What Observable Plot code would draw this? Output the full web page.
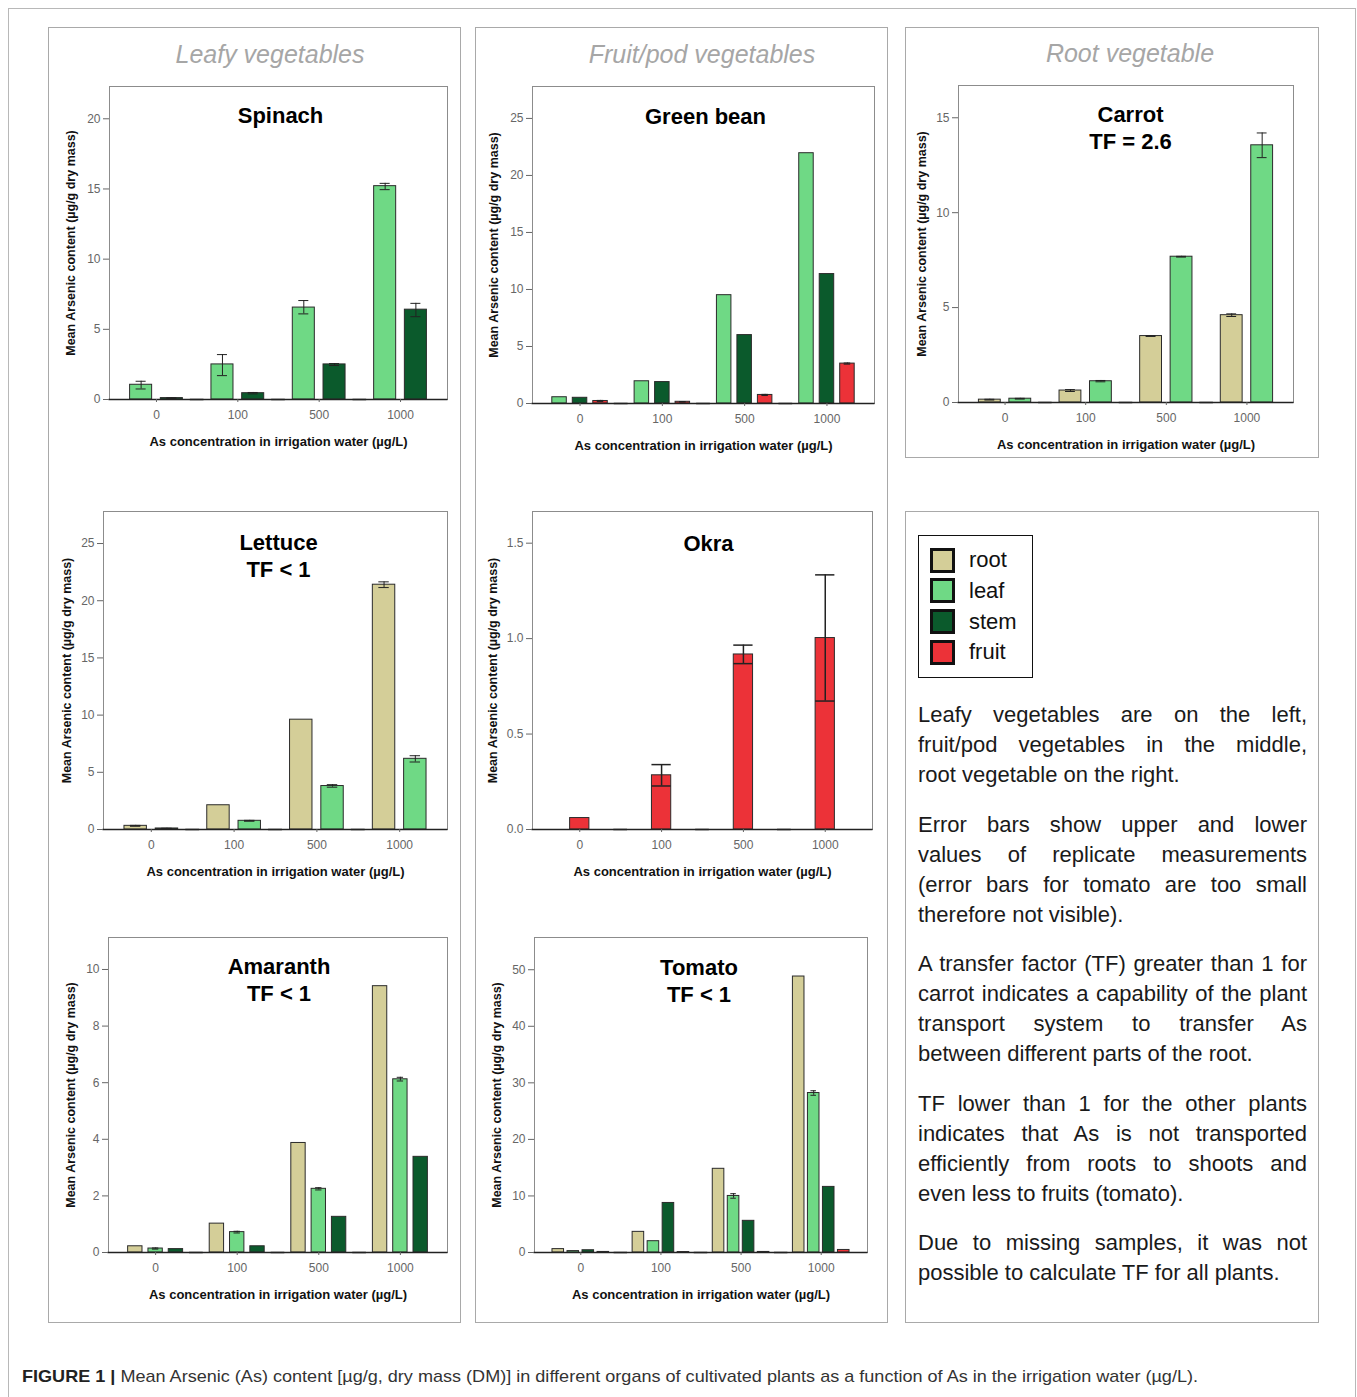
<!DOCTYPE html>
<html><head><meta charset="utf-8">
<script src="https://cdn.jsdelivr.net/npm/d3@7"></script>
<script src="https://cdn.jsdelivr.net/npm/@observablehq/plot@0.6"></script>
<style>
body{margin:0;background:#fff;font-family:"Liberation Sans",Arial,sans-serif;}
#page{position:relative;width:1357px;height:1397px;overflow:hidden;background:#fff;}
.outer{position:absolute;left:8px;top:8px;width:1348px;height:1430px;border:1px solid #b8b8b8;box-sizing:border-box;}
.col{position:absolute;border:1.5px solid #a9a9a9;box-sizing:border-box;}
.head{position:absolute;font-style:italic;font-size:25px;color:#a6a6a6;transform:translate(-50%,-50%);white-space:nowrap;}
.panel{position:absolute;}
.panel svg{overflow:visible;}
g[aria-label="y-axis label"], g[aria-label="fx-axis label"]{font-weight:bold;fill:#111;}
g[aria-label="fx-axis label"]{font-size:13px;}
g[aria-label="y-axis label"]{font-size:12.5px;}
.legend{position:absolute;left:918px;top:535px;width:115px;height:143px;border:1.5px solid #111;box-sizing:border-box;}
.lg{position:absolute;left:11px;display:flex;align-items:center;font-size:22px;color:#111;}
.sw{width:25px;height:25px;border:3px solid #111;box-sizing:border-box;margin-right:14px;}
.txt{position:absolute;left:918px;top:700px;width:389px;font-size:22px;color:#1a1a1a;}
.ln{height:30px;line-height:30px;white-space:nowrap;text-align:justify;text-align-last:justify;}
.ln.last{text-align-last:left;}
.para{margin-bottom:19.5px;}
.cap{position:absolute;left:22px;top:1367px;font-size:17px;color:#333;white-space:nowrap;transform-origin:left center;}
.cap b{color:#222;}
</style>
</head><body>
<div id="page"></div>
<script>
// ---------- data ----------
const concentrations = ["0", "100", "500", "1000"];
const organs = ["root", "leaf", "stem", "fruit"];
const organColors = ["#d4ce98", "#6fd985", "#0b5a2c", "#ec3238"];
const xLabel = "As concentration in irrigation water (µg/L)";
const yLabel = "Mean Arsenic content (µg/g dry mass)";
const columnTitles = ["Leafy vegetables", "Fruit/pod vegetables", "Root vegetable"];

// Spinach
const spinachLeaf = [1.05, 2.5, 6.55, 15.2];
const spinachLeafErr = [[0.75, 1.3], [1.7, 3.2], [6.1, 7.05], [14.95, 15.4]];
const spinachStem = [0.1, 0.45, 2.5, 6.4];
const spinachStemErr = [[0.08, 0.12], [0.4, 0.5], [2.42, 2.56], [5.9, 6.85]];
// Green bean
const beanLeaf = [0.55, 1.95, 9.5, 21.95];
const beanStem = [0.5, 1.88, 6.0, 11.35];
const beanFruit = [0.22, 0.15, 0.75, 3.5];
const beanFruitErr = [[0.18, 0.27], [0.13, 0.17], [0.7, 0.8], [3.45, 3.55]];
// Carrot
const carrotRoot = [0.15, 0.63, 3.5, 4.6];
const carrotRootErr = [[0.13, 0.17], [0.58, 0.68], [3.48, 3.52], [4.53, 4.67]];
const carrotLeaf = [0.2, 1.12, 7.68, 13.55];
const carrotLeafErr = [[0.18, 0.22], [1.09, 1.16], [7.66, 7.7], [12.9, 14.2]];
// Lettuce
const lettuceRoot = [0.32, 2.12, 9.6, 21.4];
const lettuceRootErr = [[0.28, 0.36], null, null, [21.15, 21.65]];
const lettuceLeaf = [0.09, 0.76, 3.8, 6.18];
const lettuceLeafErr = [[0.07, 0.11], [0.72, 0.8], [3.7, 3.92], [5.9, 6.45]];
// Okra
const okraFruit = [0.06, 0.284, 0.917, 1.003];
const okraFruitErr = [null, [0.228, 0.34], [0.869, 0.966], [0.673, 1.334]];
// Amaranth
const amaranthRoot = [0.22, 1.02, 3.87, 9.41];
const amaranthLeaf = [0.14, 0.72, 2.25, 6.12];
const amaranthLeafErr = [[0.12, 0.16], [0.69, 0.75], [2.21, 2.29], [6.06, 6.19]];
const amaranthStem = [0.12, 0.22, 1.26, 3.38];
// Tomato
const tomatoRoot = [0.6, 3.65, 14.8, 48.8];
const tomatoLeaf = [0.25, 2.0, 10.0, 28.2];
const tomatoLeafErr = [null, null, [9.6, 10.4], [27.8, 28.6]];
const tomatoStem = [0.4, 8.76, 5.6, 11.6];
const tomatoFruit = [0.1, 0.08, 0.1, 0.45];

const plants = [
  {title: "Spinach", series: {leaf: [spinachLeaf, spinachLeafErr], stem: [spinachStem, spinachStemErr]}, yMax: 22.3, yTicks: [0, 5, 10, 15, 20]},
  {title: "Green bean", series: {leaf: [beanLeaf], stem: [beanStem], fruit: [beanFruit, beanFruitErr]}, yMax: 27.8, yTicks: [0, 5, 10, 15, 20, 25]},
  {title: "Carrot\nTF = 2.6", series: {root: [carrotRoot, carrotRootErr], leaf: [carrotLeaf, carrotLeafErr]}, yMax: 16.7, yTicks: [0, 5, 10, 15]},
  {title: "Lettuce\nTF < 1", series: {root: [lettuceRoot, lettuceRootErr], leaf: [lettuceLeaf, lettuceLeafErr]}, yMax: 27.8, yTicks: [0, 5, 10, 15, 20, 25]},
  {title: "Okra", series: {fruit: [okraFruit, okraFruitErr]}, yMax: 1.666, yTicks: [0, 0.5, 1.0, 1.5], yFormat: ".1f"},
  {title: "Amaranth\nTF < 1", series: {root: [amaranthRoot], leaf: [amaranthLeaf, amaranthLeafErr], stem: [amaranthStem]}, yMax: 11.13, yTicks: [0, 2, 4, 6, 8, 10]},
  {title: "Tomato\nTF < 1", series: {root: [tomatoRoot], leaf: [tomatoLeaf, tomatoLeafErr], stem: [tomatoStem], fruit: [tomatoFruit]}, yMax: 55.7, yTicks: [0, 10, 20, 30, 40, 50]}
];

const notes = [
  ["Leafy vegetables are on the left,", "fruit/pod vegetables in the middle,", "root vegetable on the right."],
  ["Error bars show upper and lower", "values of replicate measurements", "(error bars for tomato are too small", "therefore not visible)."],
  ["A transfer factor (TF) greater than 1 for", "carrot indicates a capability of the plant", "transport system to transfer As", "between different parts of the root."],
  ["TF lower than 1 for the other plants", "indicates that As is not transported", "efficiently from roots to shoots and", "even less to fruits (tomato)."],
  ["Due to missing samples, it was not", "possible to calculate TF for all plants."]
];
const captionLead = "FIGURE 1 |";
const captionText = " Mean Arsenic (As) content [µg/g, dry mass (DM)] in different organs of cultivated plants as a function of As in the irrigation water (µg/L).";

// ---------- layout ----------
const layouts = [
  {frame: [109, 86, 447, 399], ylo: 43, tdy: 18, tdx: 2},
  {frame: [532, 86, 874, 403], ylo: 43, tdy: 19, tdx: 2},
  {frame: [958, 85, 1293, 402], ylo: 41, tdy: 18, tdx: 4.5},
  {frame: [103, 511, 447, 829], ylo: 41, tdy: 20, tdx: 3},
  {frame: [532, 511, 872, 829], ylo: 44, tdy: 20.5, tdx: 6},
  {frame: [108, 937, 447, 1252], ylo: 42, tdy: 18, tdx: 1},
  {frame: [534, 937, 867, 1252], ylo: 42, tdy: 19, tdx: -2}
];
const boxes = [[48, 27, 461, 1323], [475, 27, 888, 1323], [905, 27, 1319, 458], [905, 511, 1319, 1323]];
const heads = [[270, 54], [702, 54], [1130, 53]];
const fxPad = 0.155;

const page = document.getElementById("page");
const outer = document.createElement("div"); outer.className = "outer"; page.append(outer);
boxes.forEach(([l, t, r, b]) => {
  const d = document.createElement("div"); d.className = "col";
  Object.assign(d.style, {left: l + "px", top: t + "px", width: (r - l) + "px", height: (b - t) + "px"});
  page.append(d);
});
columnTitles.forEach((t, i) => {
  const d = document.createElement("div"); d.className = "head"; d.textContent = t;
  d.style.left = heads[i][0] + "px"; d.style.top = heads[i][1] + "px"; page.append(d);
});

const padByCount = {1: [0.564, 0.564, 0], 2: [0.283, 0.26, 6], 3: [0.293, 0.344, 4], 4: [0.23, 0.37, 3]};

plants.forEach((p, k) => {
  const L = layouts[k];
  const [fl, ft, fr, fb] = L.frame;
  const ml = 70, mr = 10, mt = 5, mb = 60;
  const used = organs.filter(o => p.series[o]);
  const [pi, po, cap] = padByCount[used.length];
  const outerPad = fxPad * (fr - fl) / (concentrations.length + fxPad);
  const rows = [];
  for (const o of used) {
    const [vals, errs] = p.series[o];
    vals.forEach((v, i) => rows.push({
      conc: concentrations[i], organ: o, value: v,
      lo: errs && errs[i] ? errs[i][0] : null, hi: errs && errs[i] ? errs[i][1] : null
    }));
  }
  const errRows = rows.filter(r => r.lo != null);
  const sw = used.length === 1 ? 1.5 : 1;
  const chart = Plot.plot({
    width: (fr - fl) + ml + mr, height: (fb - ft) + mt + mb,
    marginLeft: ml, marginRight: mr, marginTop: mt, marginBottom: mb,
    style: {fontFamily: '"Liberation Sans", Arial, sans-serif', fontSize: "12px", background: "none", overflow: "visible"},
    fx: {domain: concentrations, paddingInner: fxPad, paddingOuter: fxPad, round: false},
    x: {domain: used, paddingInner: pi, paddingOuter: po, round: false, axis: null},
    y: {domain: [0, p.yMax]},
    color: {domain: organs, range: organColors},
    marks: [
      Plot.frame({facet: "super", stroke: "#8c8c8c", insetLeft: -outerPad, insetRight: -outerPad}),
      Plot.barY(rows, {fx: "conc", x: "organ", y: "value", fill: "organ", stroke: "#2b2b2b", strokeWidth: 1}),
      Plot.ruleX(errRows, {fx: "conc", x: "organ", y1: "lo", y2: "hi", stroke: "#222", strokeWidth: sw}),
      Plot.tickY(errRows, {fx: "conc", x: "organ", y: "lo", stroke: "#222", strokeWidth: sw, inset: cap}),
      Plot.tickY(errRows, {fx: "conc", x: "organ", y: "hi", stroke: "#222", strokeWidth: sw, inset: cap}),
      Plot.ruleY([0], {stroke: "#222", strokeWidth: 1.5, insetLeft: -outerPad - 0.5, insetRight: -outerPad - 0.5}),
      Plot.axisY(p.yTicks, {dx: -outerPad, tickSize: 6, tickPadding: 3, tickFormat: p.yFormat ? d3.format(p.yFormat) : d3.format("d"),
        label: yLabel, labelArrow: "none", labelAnchor: "center", labelOffset: L.ylo + outerPad, color: "#666", fontSize: 12}),
      Plot.axisFx({anchor: "bottom", tickSize: 3, tickPadding: 8, label: xLabel, labelArrow: "none", labelAnchor: "center", labelOffset: 46, color: "#666", fontSize: 12}),
      Plot.text([p.title], {facet: "super", frameAnchor: "top", lineAnchor: "top", text: d => d, dy: L.tdy, dx: L.tdx,
        fontSize: 22, fontWeight: "bold", fill: "#000", lineHeight: 1.2})
    ]
  });
  const div = document.createElement("div"); div.className = "panel";
  div.style.left = (fl - ml) + "px"; div.style.top = (ft - mt) + "px";
  div.append(chart); page.append(div);
});

// legend
const lg = document.createElement("div"); lg.className = "legend"; page.append(lg);
organs.forEach((o, i) => {
  const row = document.createElement("div"); row.className = "lg";
  row.style.top = (11 + i * 30.8) + "px";
  const sw = document.createElement("div"); sw.className = "sw"; sw.style.background = organColors[i];
  const t = document.createElement("span"); t.textContent = o;
  row.append(sw, t); lg.append(row);
});

// notes
const txt = document.createElement("div"); txt.className = "txt"; page.append(txt);
notes.forEach(lines => {
  const para = document.createElement("div"); para.className = "para";
  lines.forEach((l, j) => {
    const d = document.createElement("div"); d.className = "ln" + (j === lines.length - 1 ? " last" : "");
    d.textContent = l; para.append(d);
  });
  txt.append(para);
});

// caption
const cap = document.createElement("div"); cap.className = "cap";
const b = document.createElement("b"); b.textContent = captionLead;
cap.append(b, document.createTextNode(captionText));
page.append(cap);
const w = cap.getBoundingClientRect().width;
cap.style.transform = `scaleX(${1176 / w})`;
</script>
</body></html>
